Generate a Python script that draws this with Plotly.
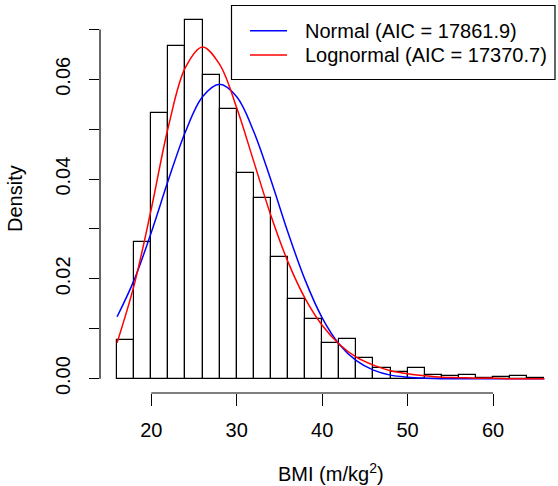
import plotly.graph_objects as go

# histogram bins (left edges, width 2) and densities
bin_left = [16, 18, 20, 22, 24, 26, 28, 30, 32, 34, 36, 38, 40, 42, 44, 46, 48, 50, 52, 54, 56, 58, 60, 62, 64]
density = [0.0078, 0.0274, 0.0532, 0.0666, 0.0718, 0.0608, 0.0541, 0.0412, 0.0362, 0.0244,
           0.0160, 0.0120, 0.0072, 0.0079, 0.0042, 0.0021, 0.0013, 0.0021, 0.0008, 0.0005,
           0.0007, 0.0002, 0.0003, 0.0005, 0.0002]
bin_width = 2

# fitted density curves
curve_x = [16, 18, 20, 22, 24, 26, 28, 30, 32, 34, 36, 38, 40, 42, 44, 46, 48, 50, 52, 54, 56, 58, 60, 62, 64, 66]
normal_y = [0.0124, 0.0198, 0.0293, 0.0398, 0.0495, 0.0565, 0.0590, 0.0565, 0.0495, 0.0398,
            0.0293, 0.0198, 0.0122, 0.0069, 0.0036, 0.0017, 0.0007, 0.0003, 0.0001, 0.0,
            0.0, 0.0, 0.0, 0.0, 0.0, 0.0]
lognormal_y = [0.0072, 0.0188, 0.0340, 0.0505, 0.0624, 0.0665, 0.0630, 0.0543, 0.0435, 0.0327,
               0.0234, 0.0161, 0.0107, 0.0069, 0.0043, 0.0027, 0.0016, 0.0010, 0.0006, 0.0003,
               0.0002, 0.0001, 0.0001, 0.0, 0.0, 0.0]

legend_labels = ["Normal (AIC = 17861.9)", "Lognormal (AIC = 17370.7)"]
x_ticks = [20, 30, 40, 50, 60]
y_ticks = [0.0, 0.02, 0.04, 0.06]
y_minor = [0.01, 0.03, 0.05, 0.07]

FONT = "Liberation Sans, Arial, sans-serif"
W, H = 558, 486
L, R, T, B = 100, 3, 5, 93
pw, ph = W - L - R, H - T - B

def px(x):
    return (x - L) / pw

def py(y):
    return (H - B - y) / ph

fig = go.Figure()
fig.add_trace(go.Bar(
    x=[b + bin_width / 2 for b in bin_left], y=density, width=bin_width,
    marker=dict(color="white", line=dict(color="black", width=1.2)),
    showlegend=False, hoverinfo="skip"))
fig.add_trace(go.Scatter(x=curve_x, y=normal_y, mode="lines", line=dict(color="#0000FF", width=1.5, shape="spline"),
                         showlegend=False))
fig.add_trace(go.Scatter(x=curve_x, y=lognormal_y, mode="lines", line=dict(color="#FF0000", width=1.5, shape="spline"),
                         showlegend=False))

shapes = [
    # axis lines, R style (only between first and last tick)
    dict(type="line", xref="paper", yref="y", x0=0, x1=0, y0=0, y1=y_minor[-1],
         line=dict(color="black", width=1.2)),
    dict(type="line", xref="x", yref="paper", x0=x_ticks[0], x1=x_ticks[-1], y0=0, y1=0,
         line=dict(color="black", width=1.2)),
    # legend box
    dict(type="rect", xref="paper", yref="paper", x0=px(231.5), x1=px(555), y0=py(79.5), y1=py(5.5),
         line=dict(color="black", width=1.2), fillcolor="white"),
    dict(type="line", xref="paper", yref="paper", x0=px(250), x1=px(287), y0=py(30.7), y1=py(30.7),
         line=dict(color="#0000FF", width=1.5)),
    dict(type="line", xref="paper", yref="paper", x0=px(250), x1=px(287), y0=py(55), y1=py(55),
         line=dict(color="#FF0000", width=1.5)),
]

annotations = [
    dict(text=legend_labels[0], xref="paper", yref="paper", x=px(303), y=py(30.7), xanchor="left",
         yanchor="middle", showarrow=False, font=dict(size=20, color="black", family=FONT)),
    dict(text=legend_labels[1], xref="paper", yref="paper", x=px(303), y=py(55), xanchor="left",
         yanchor="middle", showarrow=False, font=dict(size=20, color="black", family=FONT)),
    dict(text="Density", xref="paper", yref="paper", x=px(15), y=0.5, textangle=-90, xanchor="center",
         yanchor="middle", showarrow=False, font=dict(size=20, color="black", family=FONT)),
    dict(text="BMI (m/kg<sup>2</sup>)", xref="paper", yref="paper", x=px(331), y=py(472), xanchor="center",
         yanchor="middle", showarrow=False, font=dict(size=20, color="black", family=FONT)),
]

fig.update_layout(
    width=W, height=H,
    margin=dict(l=L, r=R, t=T, b=B, autoexpand=False),
    paper_bgcolor="white", plot_bgcolor="white",
    font=dict(family=FONT, size=20, color="black"),
    bargap=0,
    shapes=shapes, annotations=annotations,
    xaxis=dict(range=[14, 67.25], tickvals=x_ticks, ticks="outside", ticklen=12, tickwidth=1.2,
               tickcolor="black", showgrid=False, zeroline=False, showline=False,
               ticklabelstandoff=7),
    yaxis=dict(range=[-0.00288, 0.0749], tickvals=y_ticks, ticktext=["0.00", "0.02", "0.04", "0.06"],
               ticks="outside", ticklen=10, tickwidth=1.2, tickcolor="black", tickangle=-90,
               showgrid=False, zeroline=False, showline=False, ticklabelstandoff=11,
               minor=dict(tickvals=y_minor, ticks="outside", ticklen=10, tickwidth=1.2,
                          tickcolor="black", showgrid=False)),
)

# drop the page's default body margin so the figure sits at the window's corner
fig.write_html("out.html", config={"displayModeBar": False},
               post_script="document.body.style.margin='0';document.body.style.overflow='hidden';")
